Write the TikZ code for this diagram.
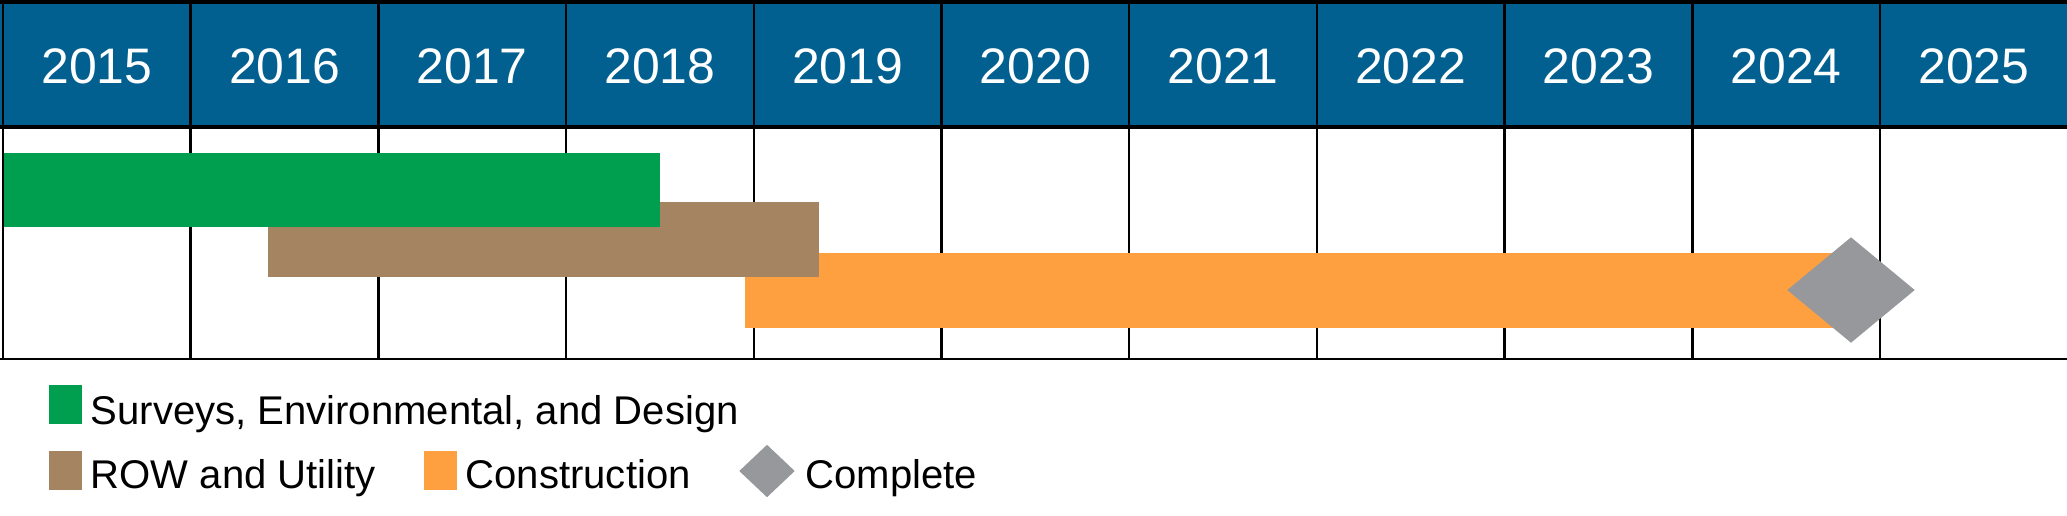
\documentclass[tikz,border=0pt]{standalone}
\usepackage{fontspec}
\setmainfont{Liberation Sans}
\usepackage{xcolor}
\usepackage{tikz}
\usetikzlibrary{shapes.geometric,calc,positioning}
\definecolor{hdrblue}{RGB}{2,96,145}
\definecolor{surveygreen}{RGB}{0,158,79}
\definecolor{rowbrown}{RGB}{165,132,98}
\definecolor{buildorange}{RGB}{255,160,64}
\definecolor{donegrey}{RGB}{151,152,155}

\begin{document}
\begin{tikzpicture}[x = 0.1mm, y = -0.1mm]
	\tikzstyle{yearlabel} = [text = white, inner sep = 0, anchor = base, font = \fontsize{14.2}{16}\selectfont]
	\tikzstyle{legendtext} = [inner sep = 0, anchor = base west, font = \fontsize{11.4}{14}\selectfont]
	\tikzstyle{gridline} = [draw = black, line width = 0.7pt]
	\tikzstyle{rule} = [draw = black, line width = 0.9pt]
	\tikzstyle{swatch} = [rectangle, inner sep = 0, minimum width = 3.3mm, minimum height = 3.9mm]
	\tikzstyle{milestone} = [diamond, inner sep = 0, fill = donegrey]
\useasboundingbox (0,0) rectangle (2067,515);
\fill[hdrblue] (0,2) rectangle (2067,127);
\foreach \yr [count = \i from 0] in {2015,...,2025}{
	\pgfmathsetmacro{\xl}{3 + \i*187.7}
	\path[draw][gridline] (\xl,2) -- (\xl,359);
	\node[yearlabel] (y\yr) at (\xl + 93.85, 83) {\yr};
}
	\path[draw][rule] (0,2) -- (2067,2);
	\path[draw][rule] (0,127) -- (2067,127);
	\path[draw][gridline] (0,359) -- (2067,359);
% bars
\fill[buildorange] (745,253) rectangle (1851,328);
\fill[rowbrown] (268,202) rectangle (819,277);
\fill[surveygreen] (4,153) rectangle (660,227);
\node[milestone, minimum width = 12.8mm, minimum height = 10.6mm] (done) at (1851,290) {};
% legend
\node[swatch, fill = surveygreen] (sgreen) at (65.5,404.5) {};
\node[legendtext] (tsurvey) at (90,424) {Surveys, Environmental, and Design};
\node[swatch, fill = rowbrown] (sbrown) at (65.5,470.5) {};
\node[legendtext] (trow) at (90,488) {ROW and Utility};
\node[swatch, fill = buildorange] (sorange) at (440.5,470.5) {};
\node[legendtext] (tbuild) at (465,488) {Construction};
\node[milestone, minimum width = 5.6mm, minimum height = 5.3mm] (sdone) at (767,471) {};
\node[legendtext] (tdone) at (805,488) {Complete};
	\end{tikzpicture}
\end{document}
